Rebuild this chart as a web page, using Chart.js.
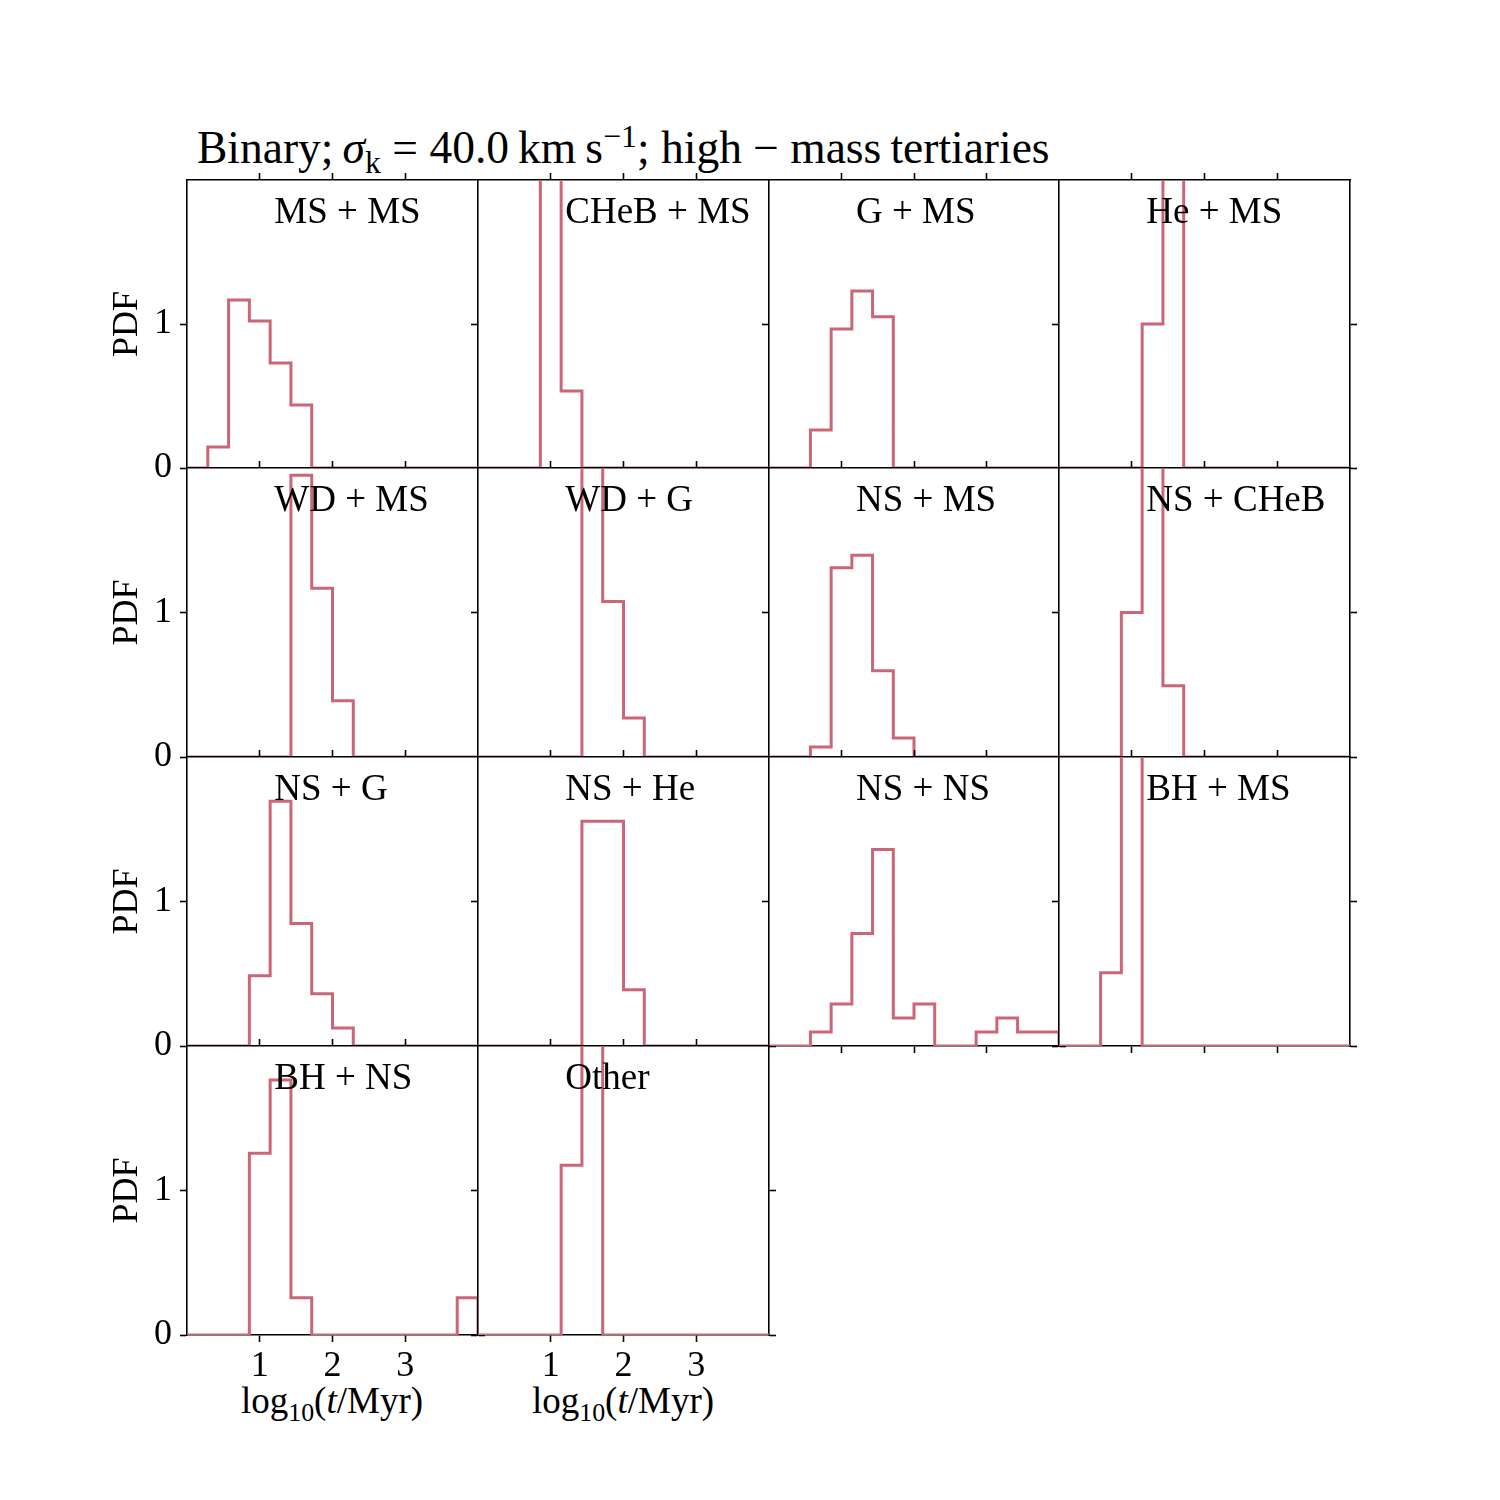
<!DOCTYPE html>
<html>
<head>
<meta charset="utf-8">
<script src="https://cdn.jsdelivr.net/npm/chart.js@4/dist/chart.umd.min.js"></script>
<style>
html, body { margin: 0; padding: 0; background: #fff; }
body { width: 1500px; height: 1500px; position: relative; overflow: hidden; font-family: 'Liberation Serif', 'Times New Roman', serif; color: #000; }
canvas { position: absolute; }
.title { position: absolute; left: 197px; top: 125px; font-size: 45.5px; line-height: 45.5px; white-space: nowrap; }
.xlabel { position: absolute; top: 1382px; font-size: 37px; line-height: 37px; white-space: nowrap; transform: translateX(-50%); }
sub, sup { font-size: 70%; line-height: 0; }
</style>
</head>
<body>
<div class="title">Binary;&thinsp;<i>σ</i><sub>k</sub> = 40.0&thinsp;km&thinsp;s<sup>−1</sup>; high − mass&thinsp;tertiaries</div>
<div class="xlabel" style="left:332px;">log<sub>10</sub>(<i>t</i>/Myr)</div>
<div class="xlabel" style="left:623px;">log<sub>10</sub>(<i>t</i>/Myr)</div>
<script>
// ---- data ----
const binEdges = [0, 0.2857, 0.5714, 0.8571, 1.1429, 1.4286, 1.7143, 2.0, 2.2857, 2.5714, 2.8571, 3.1429, 3.4286, 3.7143, 4.0];
const xTicks = [1, 2, 3];
const yTicks = [0, 1];
const panelLabels = ['MS + MS', 'CHeB + MS', 'G + MS', 'He + MS', 'WD + MS', 'WD + G', 'NS + MS', 'NS + CHeB', 'NS + G', 'NS + He', 'NS + NS', 'BH + MS', 'BH + NS', 'Other'];

const msMs   = [0, 0.146, 1.167, 1.020, 0.730, 0.438, 0, 0, 0, 0, 0, 0, 0, 0];
const chebMs = [0, 0, 0, 2.965, 0.535, 0, 0, 0, 0, 0, 0, 0, 0, 0];
const gMs    = [0, 0, 0.264, 0.965, 1.230, 1.050, 0, 0, 0, 0, 0, 0, 0, 0];
const heMs   = [0, 0, 0, 0, 1.000, 2.500, 0, 0, 0, 0, 0, 0, 0, 0];
const wdMs   = [0, 0, 0, 0, 0, 1.950, 1.167, 0.389, 0, 0, 0, 0, 0, 0];
const wdG    = [0, 0, 0, 0, 0, 2.154, 1.076, 0.270, 0, 0, 0, 0, 0, 0];
const nsMs   = [0, 0, 0.069, 1.310, 1.396, 0.597, 0.132, 0, 0, 0, 0, 0, 0, 0];
const nsCheb = [0, 0, 0, 1.000, 2.007, 0.493, 0, 0, 0, 0, 0, 0, 0, 0];
const nsG    = [0, 0, 0, 0.486, 1.694, 0.847, 0.361, 0.125, 0, 0, 0, 0, 0, 0];
const nsHe   = [0, 0, 0, 0, 0, 1.556, 1.556, 0.389, 0, 0, 0, 0, 0, 0];
const nsNs   = [0, 0, 0.097, 0.290, 0.778, 1.360, 0.194, 0.290, 0, 0, 0.097, 0.194, 0.097, 0.097];
const bhMs   = [0, 0, 0.507, 2.993, 0, 0, 0, 0, 0, 0, 0, 0, 0, 0];
const bhNs   = [0, 0, 0, 1.257, 1.764, 0.257, 0, 0, 0, 0, 0, 0, 0, 0.257];
const other  = [0, 0, 0, 0, 1.174, 2.326, 0, 0, 0, 0, 0, 0, 0, 0];

const panelValues = [msMs, chebMs, gMs, heMs, wdMs, wdG, nsMs, nsCheb, nsG, nsHe, nsNs, bhMs, bhNs, other];

// ---- layout / style ----
const X_EDGES = [187, 478, 769, 1059, 1350];
const Y_EDGES = [180, 468, 757, 1046, 1335];
const M = 100;
const FONT = "'Liberation Serif', 'Times New Roman', serif";
const LINE_COLOR = '#CC6677';
const AX_W = 1.6;
const TICK_LEN = 7;

const whiteBg = {
  id: 'whiteBg',
  beforeDraw(chart) {
    const a = chart.chartArea, c = chart.ctx;
    c.save(); c.fillStyle = '#fff';
    c.fillRect(a.left, a.top, a.right - a.left, a.bottom - a.top);
    c.restore();
  }
};
const panelLabel = {
  id: 'panelLabel',
  afterDatasetsDraw(chart, args, opts) {
    const a = chart.chartArea, c = chart.ctx;
    c.save();
    c.font = '37px ' + FONT;
    c.fillStyle = '#000';
    c.textAlign = 'left';
    c.textBaseline = 'alphabetic';
    c.fillText(opts.text, a.left + 0.3 * (a.right - a.left), a.top + 43);
    c.restore();
  }
};

function gridOpts() {
  return { display: true, drawOnChartArea: false, drawTicks: true, tickLength: TICK_LEN, tickWidth: AX_W, tickColor: '#000' };
}
function xScale(pos, showLabels) {
  return {
    type: 'linear', position: pos, min: 0, max: 4, z: 1,
    afterBuildTicks: s => { s.ticks = xTicks.map(v => ({ value: v })); },
    afterFit: s => { s.height = M; },
    grid: gridOpts(),
    border: { display: true, color: '#000', width: AX_W },
    ticks: { display: showLabels, color: '#000', font: { family: FONT, size: 36 }, padding: 3, maxRotation: 0, minRotation: 0, autoSkip: false, callback: v => String(v) }
  };
}
function yScale(pos, showLabels, showTitle) {
  return {
    type: 'linear', position: pos, min: 0, max: 2, z: 1,
    afterBuildTicks: s => { s.ticks = yTicks.map(v => ({ value: v })); },
    afterFit: s => { s.width = M; },
    grid: gridOpts(),
    border: { display: true, color: '#000', width: AX_W },
    ticks: { display: showLabels, color: '#000', font: { family: FONT, size: 36 }, padding: 8, autoSkip: false, callback: v => String(v) },
    title: { display: showTitle, text: 'PDF', color: '#000', font: { family: FONT, size: 36 }, padding: { top: 19, bottom: 0 } }
  };
}
function stepPoints(vals) {
  const pts = [{ x: binEdges[0], y: 0 }];
  vals.forEach((v, i) => pts.push({ x: binEdges[i], y: v }));
  pts.push({ x: binEdges[binEdges.length - 1], y: 0 });
  return pts;
}

panelValues.forEach((vals, k) => {
  const row = Math.floor(k / 4), col = k % 4;
  const left = X_EDGES[col], top = Y_EDGES[row];
  const w = X_EDGES[col + 1] - left, h = Y_EDGES[row + 1] - top;
  const cv = document.createElement('canvas');
  cv.width = w + 2 * M; cv.height = h + 2 * M;
  cv.style.width = (w + 2 * M) + 'px'; cv.style.height = (h + 2 * M) + 'px';
  cv.style.left = (left - M) + 'px'; cv.style.top = (top - M) + 'px';
  document.body.appendChild(cv);
  new Chart(cv.getContext('2d'), {
    type: 'line',
    data: {
      datasets: [{
        data: stepPoints(vals),
        borderColor: LINE_COLOR, borderWidth: 3, pointRadius: 0, fill: false,
        stepped: 'before', tension: 0, clip: 0, borderJoinStyle: 'miter', borderCapStyle: 'butt',
        xAxisID: 'x', yAxisID: 'y'
      }]
    },
    options: {
      responsive: false, animation: false, devicePixelRatio: 1, events: [],
      layout: { padding: 0 },
      plugins: { legend: { display: false }, tooltip: { enabled: false }, panelLabel: { text: panelLabels[k] } },
      scales: {
        x: xScale('bottom', row === 3),
        x2: xScale('top', false),
        y: yScale('left', col === 0, col === 0),
        y2: yScale('right', false, false)
      }
    },
    plugins: [whiteBg, panelLabel]
  });
});
</script>
</body>
</html>
